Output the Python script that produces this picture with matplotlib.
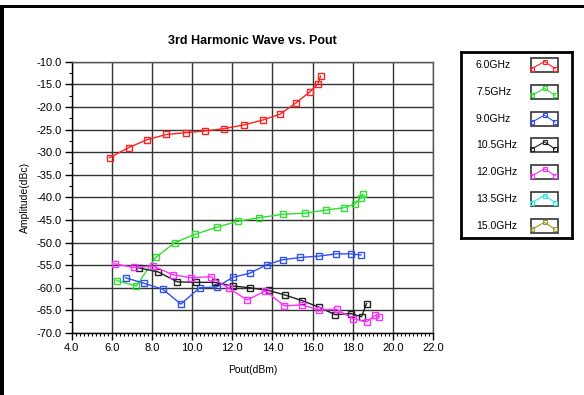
import numpy as np
import matplotlib
matplotlib.use("Agg")
import matplotlib.pyplot as plt
from matplotlib.ticker import MultipleLocator, FormatStrFormatter
from matplotlib.patches import Rectangle

plt.rcParams['font.family'] = ['Liberation Sans', 'DejaVu Sans']

# data: Pout (dBm) vs 3rd harmonic amplitude (dBc)
x_6g0 = [5.89, 6.84, 7.75, 8.71, 9.67, 10.65, 11.61, 12.56, 13.52, 14.38, 15.18, 15.86, 16.27, 16.40]
y_6g0 = [-31.2, -29.0, -27.25, -26.1, -25.7, -25.3, -24.8, -24.0, -22.9, -21.6, -19.1, -16.7, -14.9, -13.2]

x_7g5 = [6.25, 7.22, 8.18, 9.14, 10.13, 11.23, 12.27, 13.35, 14.51, 15.64, 16.67, 17.55, 18.10, 18.40, 18.50]
y_7g5 = [-58.4, -59.6, -53.3, -50.0, -48.2, -46.6, -45.3, -44.5, -43.75, -43.5, -42.8, -42.3, -41.5, -40.1, -39.3]

x_9g0 = [6.69, 7.60, 8.53, 9.44, 10.37, 11.23, 12.02, 12.86, 13.72, 14.51, 15.39, 16.30, 17.17, 17.91, 18.41]
y_9g0 = [-57.8, -59.0, -60.3, -63.6, -60.0, -59.8, -57.7, -56.8, -54.9, -53.8, -53.3, -53.0, -52.5, -52.5, -52.75]

x_10g5 = [7.35, 8.31, 9.27, 10.20, 11.13, 12.02, 12.89, 13.82, 14.63, 15.48, 16.30, 17.13, 17.91, 18.44, 18.69]
y_10g5 = [-55.6, -56.5, -58.7, -58.8, -58.8, -59.6, -60.0, -60.6, -61.6, -62.85, -64.25, -65.95, -65.7, -66.4, -63.5]

x_12g0 = [6.14, 7.08, 8.04, 9.04, 9.95, 10.92, 11.83, 12.74, 13.65, 14.60, 15.48, 16.34, 17.20, 18.00, 18.69, 19.12, 19.32]
y_12g0 = [-54.7, -55.5, -55.2, -57.1, -57.8, -57.55, -60.1, -62.7, -60.7, -64.0, -63.8, -64.9, -64.75, -66.8, -67.55, -66.1, -66.4]

labels = ["6.0GHz", "7.5GHz", "9.0GHz", "10.5GHz", "12.0GHz", "13.5GHz", "15.0GHz"]
colors = ["#ff2020", "#30e030", "#3050f0", "#202020", "#ff30ff", "#30e8e8", "#9a9a30"]
series = [(x_6g0, y_6g0), (x_7g5, y_7g5), (x_9g0, y_9g0), (x_10g5, y_10g5), (x_12g0, y_12g0), ([], []), ([], [])]

W, H = 584, 395
fig = plt.figure(figsize=(W / 100, H / 100), dpi=100)

# main axes placed in pixel terms
left, right, top, bottom = 71.7, 433, 61.7, 333
ax = fig.add_axes([left / W, 1 - bottom / H, (right - left) / W, (bottom - top) / H])

for (xs, ys), c in zip(series, colors):
    if len(xs):
        ax.plot(xs, ys, color=c, lw=1.0, marker='s', ms=4, mfc='none', mec=c, mew=1.0)

ax.set_xlim(4, 22)
ax.set_ylim(-70, -10)
ax.xaxis.set_major_locator(MultipleLocator(2))
ax.xaxis.set_minor_locator(MultipleLocator(0.2))
ax.yaxis.set_major_locator(MultipleLocator(5))
ax.yaxis.set_minor_locator(MultipleLocator(2.5))
ax.xaxis.set_major_formatter(FormatStrFormatter('%.1f'))
ax.yaxis.set_major_formatter(FormatStrFormatter('%.1f'))
ax.tick_params(which='major', length=5, width=1, labelsize=8, pad=2, direction='out')
ax.tick_params(which='minor', length=2.5, width=0.8, direction='out')
ax.grid(True, which='major', color='#333333', lw=1.0)
for s in ax.spines.values():
    s.set_color('#555555')
    s.set_linewidth(1.0)
ax.spines['left'].set_color('black')
ax.spines['bottom'].set_color('black')

ax.set_title("3rd Harmonic Wave vs. Pout", fontsize=9, fontweight='bold', pad=13)
ax.set_xlabel("Pout(dBm)", fontsize=7.5, labelpad=9)
ax.set_ylabel("Amplitude(dBc)", fontsize=7.5, labelpad=5)

# legend panel
lx0, lx1, ly0, ly1 = 460.7, 571.7, 52.3, 238
lax = fig.add_axes([lx0 / W, 1 - ly1 / H, (lx1 - lx0) / W, (ly1 - ly0) / H])
lax.set_xlim(lx0, lx1)
lax.set_ylim(ly1, ly0)
lax.set_xticks([])
lax.set_yticks([])
for s in lax.spines.values():
    s.set_linewidth(2)
for i, (lab, c) in enumerate(zip(labels, colors)):
    yc = 65 + i * 26.8
    lax.text(476, yc, lab, fontsize=7.5, va='center', ha='left')
    lax.add_patch(Rectangle((531, yc - 7), 27, 14, fill=False, ec='#333333', lw=1.2))
    lax.plot([532, 544.5, 555], [yc + 3.5, yc - 3.5, yc + 3.5], color=c, lw=0.8,
             marker='s', ms=2.8, mfc='none', mec=c, mew=0.8)

# thick outer frame (top and left) of the original window
fig.add_artist(Rectangle((0, 1 - 8 / H), 1, 3 / H, transform=fig.transFigure,
                         color='black', lw=0))
fig.add_artist(Rectangle((0, 0), 4 / W, 1 - 5 / H, transform=fig.transFigure,
                         color='black', lw=0))

fig.savefig("out.png", dpi=100)
